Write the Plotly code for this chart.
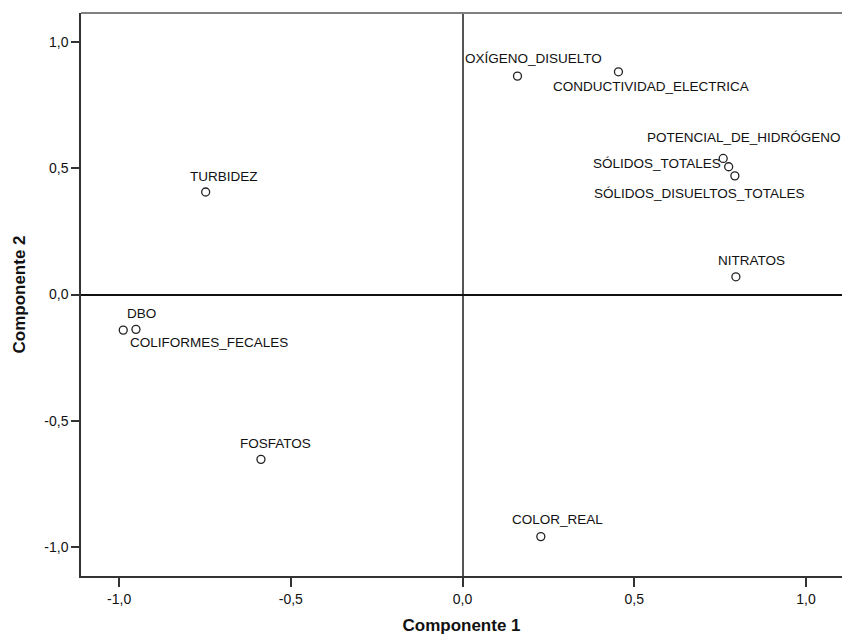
import plotly.graph_objects as go

# Data (component loadings)
variables = ["OXÍGENO_DISUELTO", "CONDUCTIVIDAD_ELECTRICA", "POTENCIAL_DE_HIDRÓGENO",
             "SÓLIDOS_TOTALES", "SÓLIDOS_DISUELTOS_TOTALES", "NITRATOS", "TURBIDEZ",
             "DBO", "COLIFORMES_FECALES", "FOSFATOS", "COLOR_REAL"]
componente1 = [0.160, 0.454, 0.759, 0.775, 0.793, 0.796, -0.748, -0.951, -0.988, -0.587, 0.228]
componente2 = [0.865, 0.882, 0.539, 0.506, 0.470, 0.070, 0.406, -0.138, -0.141, -0.653, -0.959]
tick_vals = [-1.0, -0.5, 0.0, 0.5, 1.0]
tick_text = ["-1,0", "-0,5", "0,0", "0,5", "1,0"]

# Label placement (pixel offsets from each point, and anchor)
label_dx = [-54, -67, -78, -6, -143, -20, -18, -11, 5, -23, -31]
label_dy = [18, -15, 21, 3, -18, 16, 16, 16, -12, 16, 17]
label_anchor = ["left", "left", "left", "right", "left", "left", "left", "left", "left", "left", "left"]

FONT = "Liberation Sans, Arial, Helvetica, sans-serif"

fig = go.Figure()
fig.add_trace(go.Scatter(
    x=componente1, y=componente2, mode="markers",
    marker=dict(symbol="circle-open", size=8, color="#222222", line=dict(width=1.3, color="#222222")),
    hoverinfo="text", text=variables, showlegend=False,
))

for name, x, y, dx, dy, anc in zip(variables, componente1, componente2, label_dx, label_dy, label_anchor):
    fig.add_annotation(x=x, y=y, text=name, showarrow=False, xanchor=anc, yanchor="middle",
                       xshift=dx, yshift=dy, font=dict(family=FONT, size=13.5, color="#111111"))

fig.add_shape(type="line", xref="paper", yref="paper", x0=0, x1=1, y0=1, y1=1,
              line=dict(color="#808080", width=2))

fig.update_layout(
    width=842, height=636,
    margin=dict(l=81, r=0, t=13, b=60, autoexpand=False),
    paper_bgcolor="white", plot_bgcolor="white",
    separators=",.",
    font=dict(family=FONT, color="#111111"),
    xaxis=dict(
        range=[-1.111, 1.105], tickvals=tick_vals, ticktext=tick_text, automargin=False,
        ticks="outside", ticklen=9, tickwidth=1.5, tickcolor="#333333",
        showline=True, linecolor="#333333", linewidth=1.5,
        showgrid=False, zeroline=True, zerolinecolor="#555555", zerolinewidth=1.5,
        tickfont=dict(family=FONT, size=14, color="#111111"),
        title=dict(text="<b>Componente 1</b>", font=dict(family=FONT, size=17, color="#111111"), standoff=14),
    ),
    yaxis=dict(
        range=[-1.115, 1.115], tickvals=tick_vals, ticktext=tick_text, automargin=False,
        ticks="outside", ticklen=8, tickwidth=1.5, tickcolor="#333333",
        showline=True, linecolor="#333333", linewidth=1.5,
        showgrid=False, zeroline=True, zerolinecolor="#111111", zerolinewidth=2,
        tickfont=dict(family=FONT, size=14, color="#111111"),
        title=dict(text="<b>Componente 2</b>", font=dict(family=FONT, size=17, color="#111111"), standoff=14),
    ),
)

fig.write_html("out.html", config={"displayModeBar": False},
               post_script="document.body.style.margin='0';document.body.style.overflow='hidden';")
